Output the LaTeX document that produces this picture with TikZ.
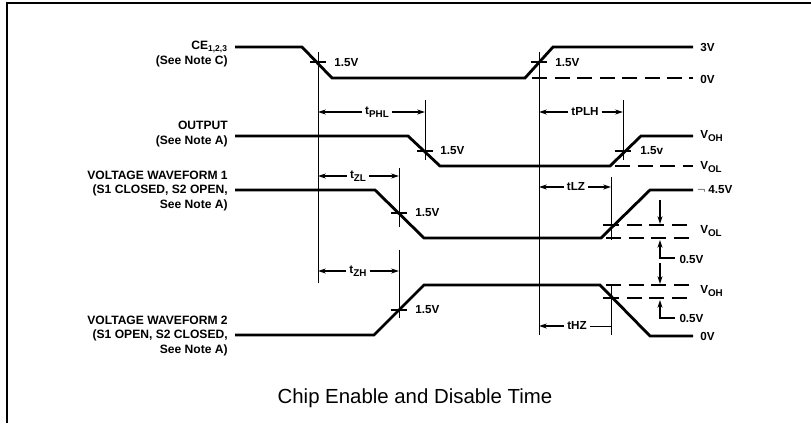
\documentclass[tikz,border=0pt]{standalone}
\usepackage{fontspec}
\setmainfont{Liberation Sans}
\usetikzlibrary{arrows.meta}

\newcommand{\lowsub}[1]{\raisebox{-0.45ex}{\fontsize{7}{8}\selectfont #1}}

\begin{document}
\begin{tikzpicture}[
    x=0.025cm, y=-0.025cm,
    wave/.style={line width=2pt, line join=miter},
    refline/.style={line width=0.7pt},
    level/.style={line width=1.2pt, dash pattern=on 11pt off 5pt},
    marker/.style={line width=1pt},
    timing/.style={line width=0.8pt, -{Stealth[length=5.5pt, width=3.5pt]}},
    signame/.style={anchor=east, align=right, inner sep=0pt, font=\bfseries\fontsize{8.6}{10.2}\selectfont},
    vlabel/.style={anchor=west, inner sep=0pt, font=\bfseries\fontsize{8.3}{9}\selectfont},
    tlabel/.style={inner sep=2pt, font=\bfseries\fontsize{8.3}{9}\selectfont}
]
    \useasboundingbox (0,0) rectangle (811,423);

    % Frame
    \draw[line width=1.2pt] (7,423) -- (7,3) -- (811,3);

    % Signal names
    \node[signame] (cename) at (228,54) {CE\textsubscript{1,2,3}\\(See Note C)};
    \node[signame] (outname) at (228,134) {OUTPUT\\(See Note A)};
    \node[signame] (wfaname) at (228,191) {VOLTAGE WAVEFORM 1\\(S1 CLOSED, S2 OPEN,\\See Note A)};
    \node[signame] (wfbname) at (228,336) {VOLTAGE WAVEFORM 2\\(S1 OPEN, S2 CLOSED,\\See Note A)};

    % Crossing points
    \coordinate (ce1) at (318,62);
    \coordinate (ce2) at (539,62);
    \coordinate (out1) at (425,151);
    \coordinate (out2) at (623,151);
    \coordinate (wfa1) at (399,213);
    \coordinate (wfa2) at (611,225);
    \coordinate (wfb1) at (399,310);
    \coordinate (wfb2) at (611,298);

    % Waveforms
    \draw[wave] (235,47) -- (302,47) -- (332,78) -- (525,78) -- (553,47) -- (693,47);
    \draw[wave] (235,136) -- (408,136) -- (440,166) -- (610,166) -- (641,136) -- (693,136);
    \draw[wave] (235,190) -- (375,190) -- (424,238) -- (601,238) -- (650,190) -- (693,190);
    \draw[wave] (235,335) -- (374,335) -- (424,285) -- (600,285) -- (650,336) -- (693,336);

    % Levels
    \draw[level] (532,78) -- (693,78);
    \draw[level] (615,166) -- (693,166);
    \draw[level] (604,225) -- (693,225);
    \draw[level] (606,238) -- (693,238);
    \draw[level] (606,285) -- (693,285);
    \draw[level] (604,298) -- (693,298);

    % Reference lines
    \draw[refline] (318,52) -- (318,283);
    \draw[refline] (539,52) -- (539,335);
    \draw[refline] (425,100) -- (425,160);
    \draw[refline] (623,100) -- (623,160);
    \draw[refline] (399,168) -- (399,227);
    \draw[refline] (399,250) -- (399,318);
    \draw[refline] (611,177) -- (611,240);
    \draw[refline] (611,284) -- (611,335);

    % 1.5V marks
    \foreach \p in {ce1, ce2, out1, out2, wfa1, wfa2, wfb1, wfb2}
        \draw[marker] ([xshift=-8*0.025cm]\p) -- ([xshift=8*0.025cm]\p);
    \node[vlabel] (ce1v) at (334,63) {1.5V};
    \node[vlabel] (ce2v) at (555,63) {1.5V};
    \node[vlabel] (out1v) at (440,151) {1.5V};
    \node[vlabel] (out2v) at (640,151) {1.5v};
    \node[vlabel] (wfa1v) at (415,213) {1.5V};
    \node[vlabel] (wfb1v) at (415,310) {1.5V};

    % Timing intervals
    \node[tlabel] (tphl) at (377,112) {t\lowsub{PHL}};
    \draw[timing] (tphl) -- (tphl -| ce1);
    \draw[timing] (tphl) -- (tphl -| out1);
    \node[tlabel] (tplh) at (585,112) {tPLH};
    \draw[timing] (tplh) -- (tplh -| ce2);
    \draw[timing] (tplh) -- (tplh -| out2);
    \node[tlabel] (tzl) at (358,176) {t\lowsub{ZL}};
    \draw[timing] (tzl) -- (tzl -| ce1);
    \draw[timing] (tzl) -- (tzl -| wfa1);
    \node[tlabel] (tlz) at (576,187) {tLZ};
    \draw[timing] (tlz) -- (tlz -| ce2);
    \draw[timing] (tlz) -- (tlz -| wfa2);
    \node[tlabel] (tzh) at (358,271) {t\lowsub{ZH}};
    \draw[timing] (tzh) -- (tzh -| ce1);
    \draw[timing] (tzh) -- (tzh -| wfb1);
    \node[tlabel] (thz) at (577,326) {tHZ};
    \draw[timing] (thz) -- (thz -| ce2);
    \draw[refline] (thz) -- (thz -| wfb2);

    % Level names
    \node[vlabel] (l3v) at (700,47) {3V};
    \node[vlabel] (l0v) at (700,79) {0V};
    \node[vlabel] (loh) at (700,136) {V\lowsub{OH}};
    \node[vlabel] (lol) at (700,167) {V\lowsub{OL}};
    \node[vlabel] (l45) at (697,190) {$\neg$ 4.5V};
    \node[vlabel] (lola) at (700,231) {V\lowsub{OL}};
    \node[vlabel] (lohb) at (700,291) {V\lowsub{OH}};
    \node[vlabel] (l0vb) at (700,336) {0V};

    % 0.5V offsets
    \coordinate (offa) at (660,258);
    \coordinate (offb) at (660,318);
    \node[vlabel, inner sep=3pt] (halfa) at (675,259) {0.5V};
    \node[vlabel, inner sep=3pt] (halfb) at (675,318) {0.5V};
    \draw[timing] (660,200) -- (660,224);
    \draw[timing] (halfa.west |- offa) -- (offa) -- (660,240);
    \draw[timing] (660,263) -- (660,284);
    \draw[timing] (halfb.west |- offb) -- (offb) -- (660,300);

    % Title
    \node[font=\fontsize{14.5}{16}\selectfont] (title) at (415,398) {Chip Enable and Disable Time};
\end{tikzpicture}
\end{document}
